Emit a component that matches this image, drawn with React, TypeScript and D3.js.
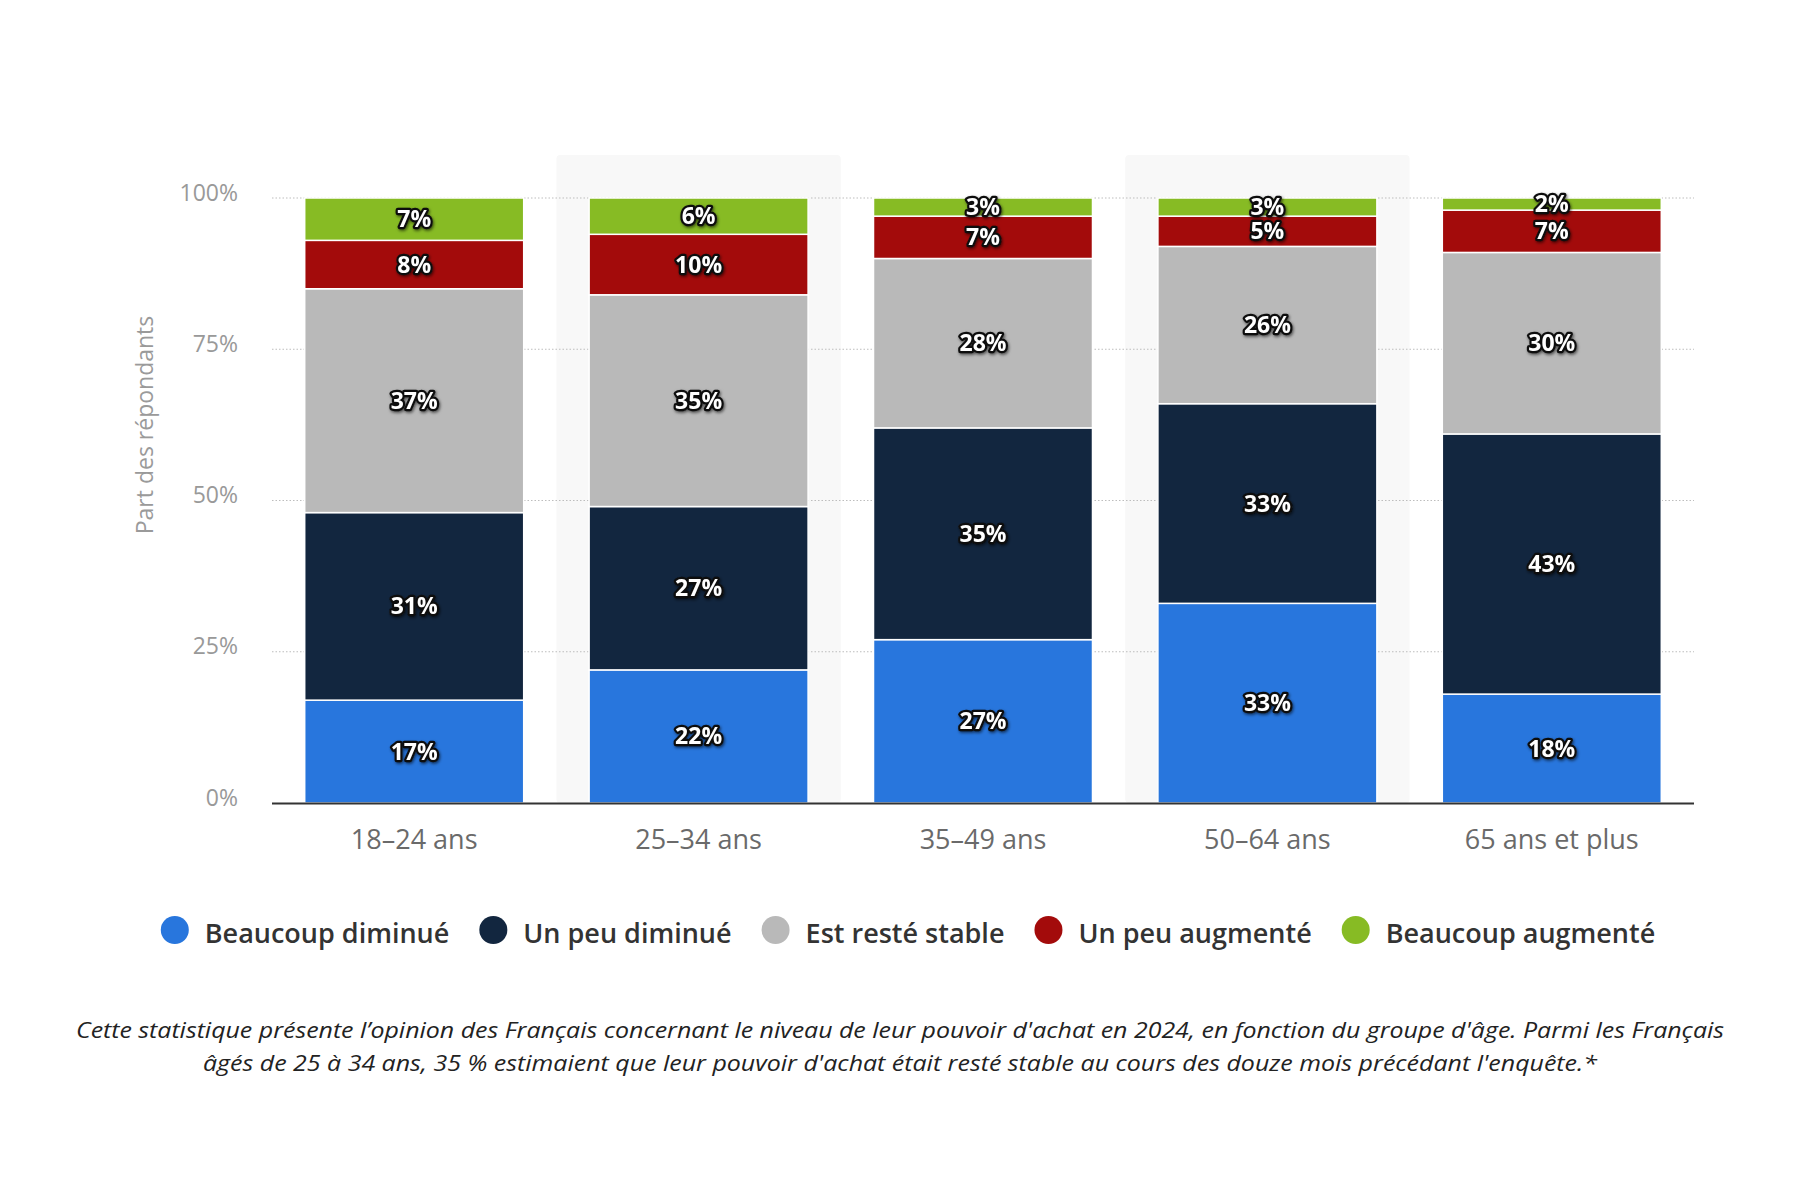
import React, { useEffect, useRef } from "react";
import * as d3 from "d3";

const categories = ["18–24 ans", "25–34 ans", "35–49 ans", "50–64 ans", "65 ans et plus"];
const seriesNames = ["Beaucoup diminué", "Un peu diminué", "Est resté stable", "Un peu augmenté", "Beaucoup augmenté"];
const beaucoupDiminue = [17, 22, 27, 33, 18];
const unPeuDiminue = [31, 27, 35, 33, 43];
const resteStable = [37, 35, 28, 26, 30];
const unPeuAugmente = [8, 10, 7, 5, 7];
const beaucoupAugmente = [7, 6, 3, 3, 2];
const seriesColors = ["#2876dd", "#12263f", "#b9b9b9", "#a30b0b", "#87bb24"];
const yTicks = [0, 25, 50, 75, 100];
const yAxisTitle = "Part des répondants";
const footnoteLines = [
  "Cette statistique présente l’opinion des Français concernant le niveau de leur pouvoir d'achat en 2024, en fonction du groupe d'âge. Parmi les Français",
  "âgés de 25 à 34 ans, 35 % estimaient que leur pouvoir d'achat était resté stable au cours des douze mois précédant l'enquête.*",
];

const W = 1800;
const H = 1200;
const FONT = "'Open Sans', 'Noto Sans', sans-serif";

export default function App() {
  const ref = useRef<SVGSVGElement | null>(null);

  useEffect(() => {
    const svg = d3.select(ref.current);
    svg.selectAll("*").remove();

    const seriesValues = [beaucoupDiminue, unPeuDiminue, resteStable, unPeuAugmente, beaucoupAugmente];
    const table = categories.map((c, i) => {
      const row: any = { category: c };
      seriesNames.forEach((s, j) => (row[s] = seriesValues[j][i]));
      return row;
    });

    const x = d3.scaleBand<string>().domain(categories).range([272, 1694]).paddingInner(0.23).paddingOuter(0.115);
    const y = d3.scaleLinear().domain([0, 100]).range([803, 198]);
    const color = d3.scaleOrdinal<string, string>().domain(seriesNames).range(seriesColors);

    const defs = svg.append("defs");
    const f = defs.append("filter").attr("id", "lblShadow").attr("x", "-30%").attr("y", "-30%").attr("width", "160%").attr("height", "160%");
    f.append("feDropShadow").attr("dx", 1).attr("dy", 1.5).attr("stdDeviation", 1.5).attr("flood-color", "#000").attr("flood-opacity", 0.6);

    svg.append("rect").attr("width", W).attr("height", H).attr("fill", "#fff");

    // alternating column shading
    const step = x.step();
    const padIn = x.paddingInner() * step;
    svg
      .append("g")
      .selectAll("rect")
      .data(categories.filter((_, i) => i % 2 === 1))
      .join("rect")
      .attr("x", (d) => (x(d) as number) - padIn / 2)
      .attr("y", 155)
      .attr("width", step)
      .attr("height", y(0) - 155)
      .attr("rx", 4)
      .attr("fill", "#f8f8f8");

    // gridlines
    svg
      .append("g")
      .selectAll("line")
      .data(yTicks.filter((t) => t > 0))
      .join("line")
      .attr("x1", 272)
      .attr("x2", 1694)
      .attr("y1", (d) => y(d))
      .attr("y2", (d) => y(d))
      .attr("stroke", "#bdbdbd")
      .attr("stroke-width", 1)
      .attr("stroke-dasharray", "1.5,2");

    // y tick labels
    svg
      .append("g")
      .selectAll("text")
      .data(yTicks)
      .join("text")
      .attr("x", 238)
      .attr("y", (d) => y(d) + 2.5)
      .attr("text-anchor", "end")
      .attr("font-family", FONT)
      .attr("font-size", 23)
      .attr("fill", "#999")
      .text((d) => `${d}%`);

    // y axis title
    svg
      .append("text")
      .attr("transform", "translate(153,425) rotate(-90)")
      .attr("text-anchor", "middle")
      .attr("font-family", FONT)
      .attr("font-size", 23)
      .attr("fill", "#9a9a9a")
      .text(yAxisTitle);

    // stacked bars
    const stacked = d3.stack<any>().keys(seriesNames)(table);
    const layers = svg.append("g").selectAll("g").data(stacked).join("g").attr("fill", (d) => color(d.key));
    layers
      .selectAll("rect")
      .data((d) => d)
      .join("rect")
      .attr("x", (d) => x(d.data.category) as number)
      .attr("width", x.bandwidth())
      .attr("y", (d) => y(d[1]))
      .attr("height", (d) => y(d[0]) - y(d[1]))
      .attr("stroke", "#fff")
      .attr("stroke-width", 1.5);

    // x axis line
    svg
      .append("line")
      .attr("x1", 272)
      .attr("x2", 1694)
      .attr("y1", y(0) + 0.5)
      .attr("y2", y(0) + 0.5)
      .attr("stroke", "#333")
      .attr("stroke-width", 2);

    // x labels
    svg
      .append("g")
      .selectAll("text")
      .data(categories)
      .join("text")
      .attr("x", (d) => (x(d) as number) + x.bandwidth() / 2)
      .attr("y", 849)
      .attr("text-anchor", "middle")
      .attr("font-family", FONT)
      .attr("font-size", 27)
      .attr("fill", "#6a6a6a")
      .text((d) => d);

    // data labels
    const labels = svg.append("g");
    stacked.forEach((layer) => {
      layer.forEach((d) => {
        const v = d[1] - d[0];
        labels
          .append("text")
          .attr("x", (x(d.data.category) as number) + x.bandwidth() / 2)
          .attr("y", (y(d[0]) + y(d[1])) / 2 + 8)
          .attr("text-anchor", "middle")
          .attr("font-family", FONT)
          .attr("font-weight", 700)
          .attr("font-size", 23)
          .attr("fill", "#fff")
          .attr("stroke", "#111")
          .attr("stroke-width", 4.5)
          .attr("stroke-linejoin", "round")
          .attr("paint-order", "stroke")
          .attr("filter", "url(#lblShadow)")
          .text(`${v}%`);
      });
    });

    // legend
    const legend = svg.append("g");
    const items: { g: any; w: number }[] = [];
    seriesNames.forEach((s) => {
      const g = legend.append("g");
      g.append("circle").attr("cx", 0).attr("cy", 930).attr("r", 14).attr("fill", color(s));
      const t = g
        .append("text")
        .attr("x", 30)
        .attr("y", 943)
        .attr("font-family", FONT)
        .attr("font-weight", 600)
        .attr("font-size", 27)
        .attr("fill", "#333")
        .text(s);
      const tw = (t.node() as SVGTextElement).getComputedTextLength();
      items.push({ g, w: 30 + tw });
    });
    const gap = 44;
    const total = items.reduce((a, b) => a + b.w, 0) + gap * (items.length - 1) + 14;
    let cx = 908 - total / 2 + 14;
    items.forEach((it) => {
      it.g.attr("transform", `translate(${cx},0)`);
      cx += it.w + gap;
    });

    // footnote
    svg
      .append("g")
      .selectAll("text")
      .data(footnoteLines)
      .join("text")
      .attr("x", 900)
      .attr("y", (_, i) => 1038 + i * 33)
      .attr("text-anchor", "middle")
      .attr("font-family", FONT)
      .attr("font-style", "italic")
      .attr("font-size", 22)
      .attr("fill", "#222")
      .attr("textLength", (_, i) => (i === 0 ? 1648 : 1394))
      .attr("lengthAdjust", "spacingAndGlyphs")
      .text((d) => d);
  }, []);

  return (
    <div style={{ position: "absolute", left: 0, top: 0 }}>
      <svg ref={ref} width={W} height={H} style={{ display: "block" }} />
    </div>
  );
}
